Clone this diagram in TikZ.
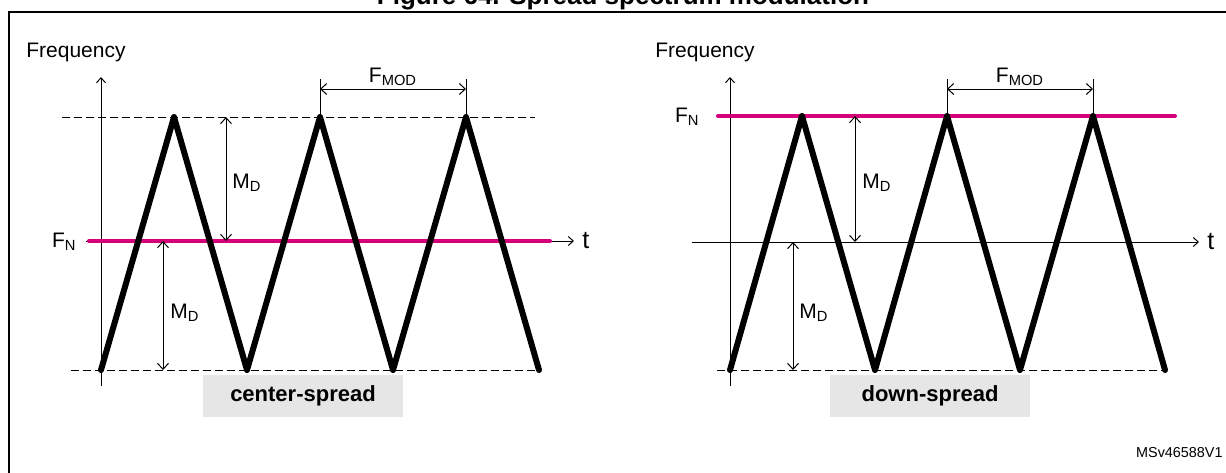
\documentclass[tikz,border=0pt]{standalone}
\usepackage{fontspec}
\setmainfont{Liberation Sans}
\usetikzlibrary{arrows.meta,positioning}
\definecolor{nompink}{RGB}{214,0,122}
\definecolor{boxgray}{RGB}{230,230,230}
\tikzset{
  axis/.style={line width=.5pt, -{Straight Barb[length=2.5pt,width=4.5pt]}},
  dim/.style={line width=.5pt, {Straight Barb[length=3pt,width=5.5pt]}-{Straight Barb[length=3pt,width=5.5pt]}},
  limit/.style={line width=.5pt, dash pattern=on 4pt off 2pt},
  tick/.style={line width=.5pt},
  fnom/.style={line width=2pt, nompink, line cap=round},
  wave/.style={line width=3pt, line join=round, line cap=round},
  lbl/.style={font=\fontsize{10.5}{12}\selectfont, inner sep=0pt},
  tlbl/.style={font=\fontsize{12.5}{14}\selectfont, inner sep=0pt},
  spreadbox/.style={fill=boxgray, minimum width=100pt, minimum height=21pt,
    inner sep=0pt, font=\bfseries\fontsize{11}{13}\selectfont}
}
\begin{document}
\begin{tikzpicture}[x=.5pt, y=-.5pt]
\useasboundingbox (0,0) rectangle (1226,472);
%frame and title
\draw[line width=1.2pt] (9,480) -- (9,12) -- (1240,12);
\node[font=\bfseries\fontsize{13}{15}\selectfont, anchor=base, inner sep=0pt] (title) at (623,4) {Figure 64. Spread spectrum modulation};

%%% center-spread
\node[lbl] (freqL) at (76,52) {Frequency};
%axes
\coordinate (yL0) at (101,386);
\coordinate (yL1) at (101,77);
\draw[axis] (yL0) -- (yL1);
\coordinate (tL0) at (86,241);
\coordinate (tL1) at (574,241);
\draw[axis] (tL0) -- (tL1);
\node[tlbl, right=4pt of tL1] (tL) {t};
%limits
\draw[limit] (62,117) -- (535,117);
\draw[limit] (71,370) -- (539,370);
%nominal frequency
\draw[fnom] (89,241) -- (550,241);
\node[lbl, anchor=east] (fnL) at (77,242) {F\textsubscript{N}};
%modulated clock
\draw[wave] (101,370) -- (174,117) -- (247,370) -- (320,117) -- (393,370) -- (466,117) -- (539,370);
%modulation period
\coordinate (pkL1) at (320,117);
\coordinate (pkL2) at (466,117);
\coordinate (tpL1) at (320,79);
\coordinate (tpL2) at (466,79);
\draw[tick] (pkL1) -- (tpL1);
\draw[tick] (pkL2) -- (tpL2);
\coordinate (fmL1) at (320,89);
\coordinate (fmL2) at (466,89);
\draw[dim] (fmL1) -- (fmL2);
\node[lbl, anchor=south] (fmodL) at (393,86) {F\textsubscript{MOD}};
%deviation
\coordinate (mdL1) at (226,117);
\coordinate (mdL2) at (226,241);
\draw[dim] (mdL1) -- (mdL2);
\node[lbl] (mdLu) at (247,183) {M\textsubscript{D}};
\coordinate (mdL3) at (163,241);
\coordinate (mdL4) at (163,370);
\draw[dim] (mdL3) -- (mdL4);
\node[lbl] (mdLl) at (185,313) {M\textsubscript{D}};
\node[spreadbox] (csL) at (303,396) {center-spread};

%%% down-spread
\node[lbl] (freqR) at (705,52) {Frequency};
%axes
\coordinate (yR0) at (730,386);
\coordinate (yR1) at (730,77);
\draw[axis] (yR0) -- (yR1);
\coordinate (tR0) at (692,242);
\coordinate (tR1) at (1199,242);
\draw[axis] (tR0) -- (tR1);
\node[tlbl, right=4pt of tR1] (tR) {t};
%limits
\draw[limit] (717,370) -- (1165,370);
%nominal frequency
\draw[fnom] (718,116) -- (1175,116);
\node[lbl, anchor=east] (fnR) at (700,117) {F\textsubscript{N}};
%modulated clock
\draw[wave] (730,370) -- (802,116) -- (875,370) -- (947,116) -- (1020,370) -- (1093,116) -- (1165,370);
%modulation period
\coordinate (pkR1) at (947,116);
\coordinate (pkR2) at (1093,116);
\coordinate (tpR1) at (947,79);
\coordinate (tpR2) at (1093,79);
\draw[tick] (pkR1) -- (tpR1);
\draw[tick] (pkR2) -- (tpR2);
\coordinate (fmR1) at (947,89);
\coordinate (fmR2) at (1093,89);
\draw[dim] (fmR1) -- (fmR2);
\node[lbl, anchor=south] (fmodR) at (1020,86) {F\textsubscript{MOD}};
%deviation
\coordinate (mdR1) at (855,116);
\coordinate (mdR2) at (855,242);
\draw[dim] (mdR1) -- (mdR2);
\node[lbl] (mdRu) at (877,183) {M\textsubscript{D}};
\coordinate (mdR3) at (793,242);
\coordinate (mdR4) at (793,370);
\draw[dim] (mdR3) -- (mdR4);
\node[lbl] (mdRl) at (814,313) {M\textsubscript{D}};
\node[spreadbox] (dsR) at (930,396) {down-spread};

\node[font=\fontsize{7.2}{9}\selectfont, anchor=east, inner sep=0pt] (ref) at (1223,453) {MSv46588V1};
\end{tikzpicture}
\end{document}
